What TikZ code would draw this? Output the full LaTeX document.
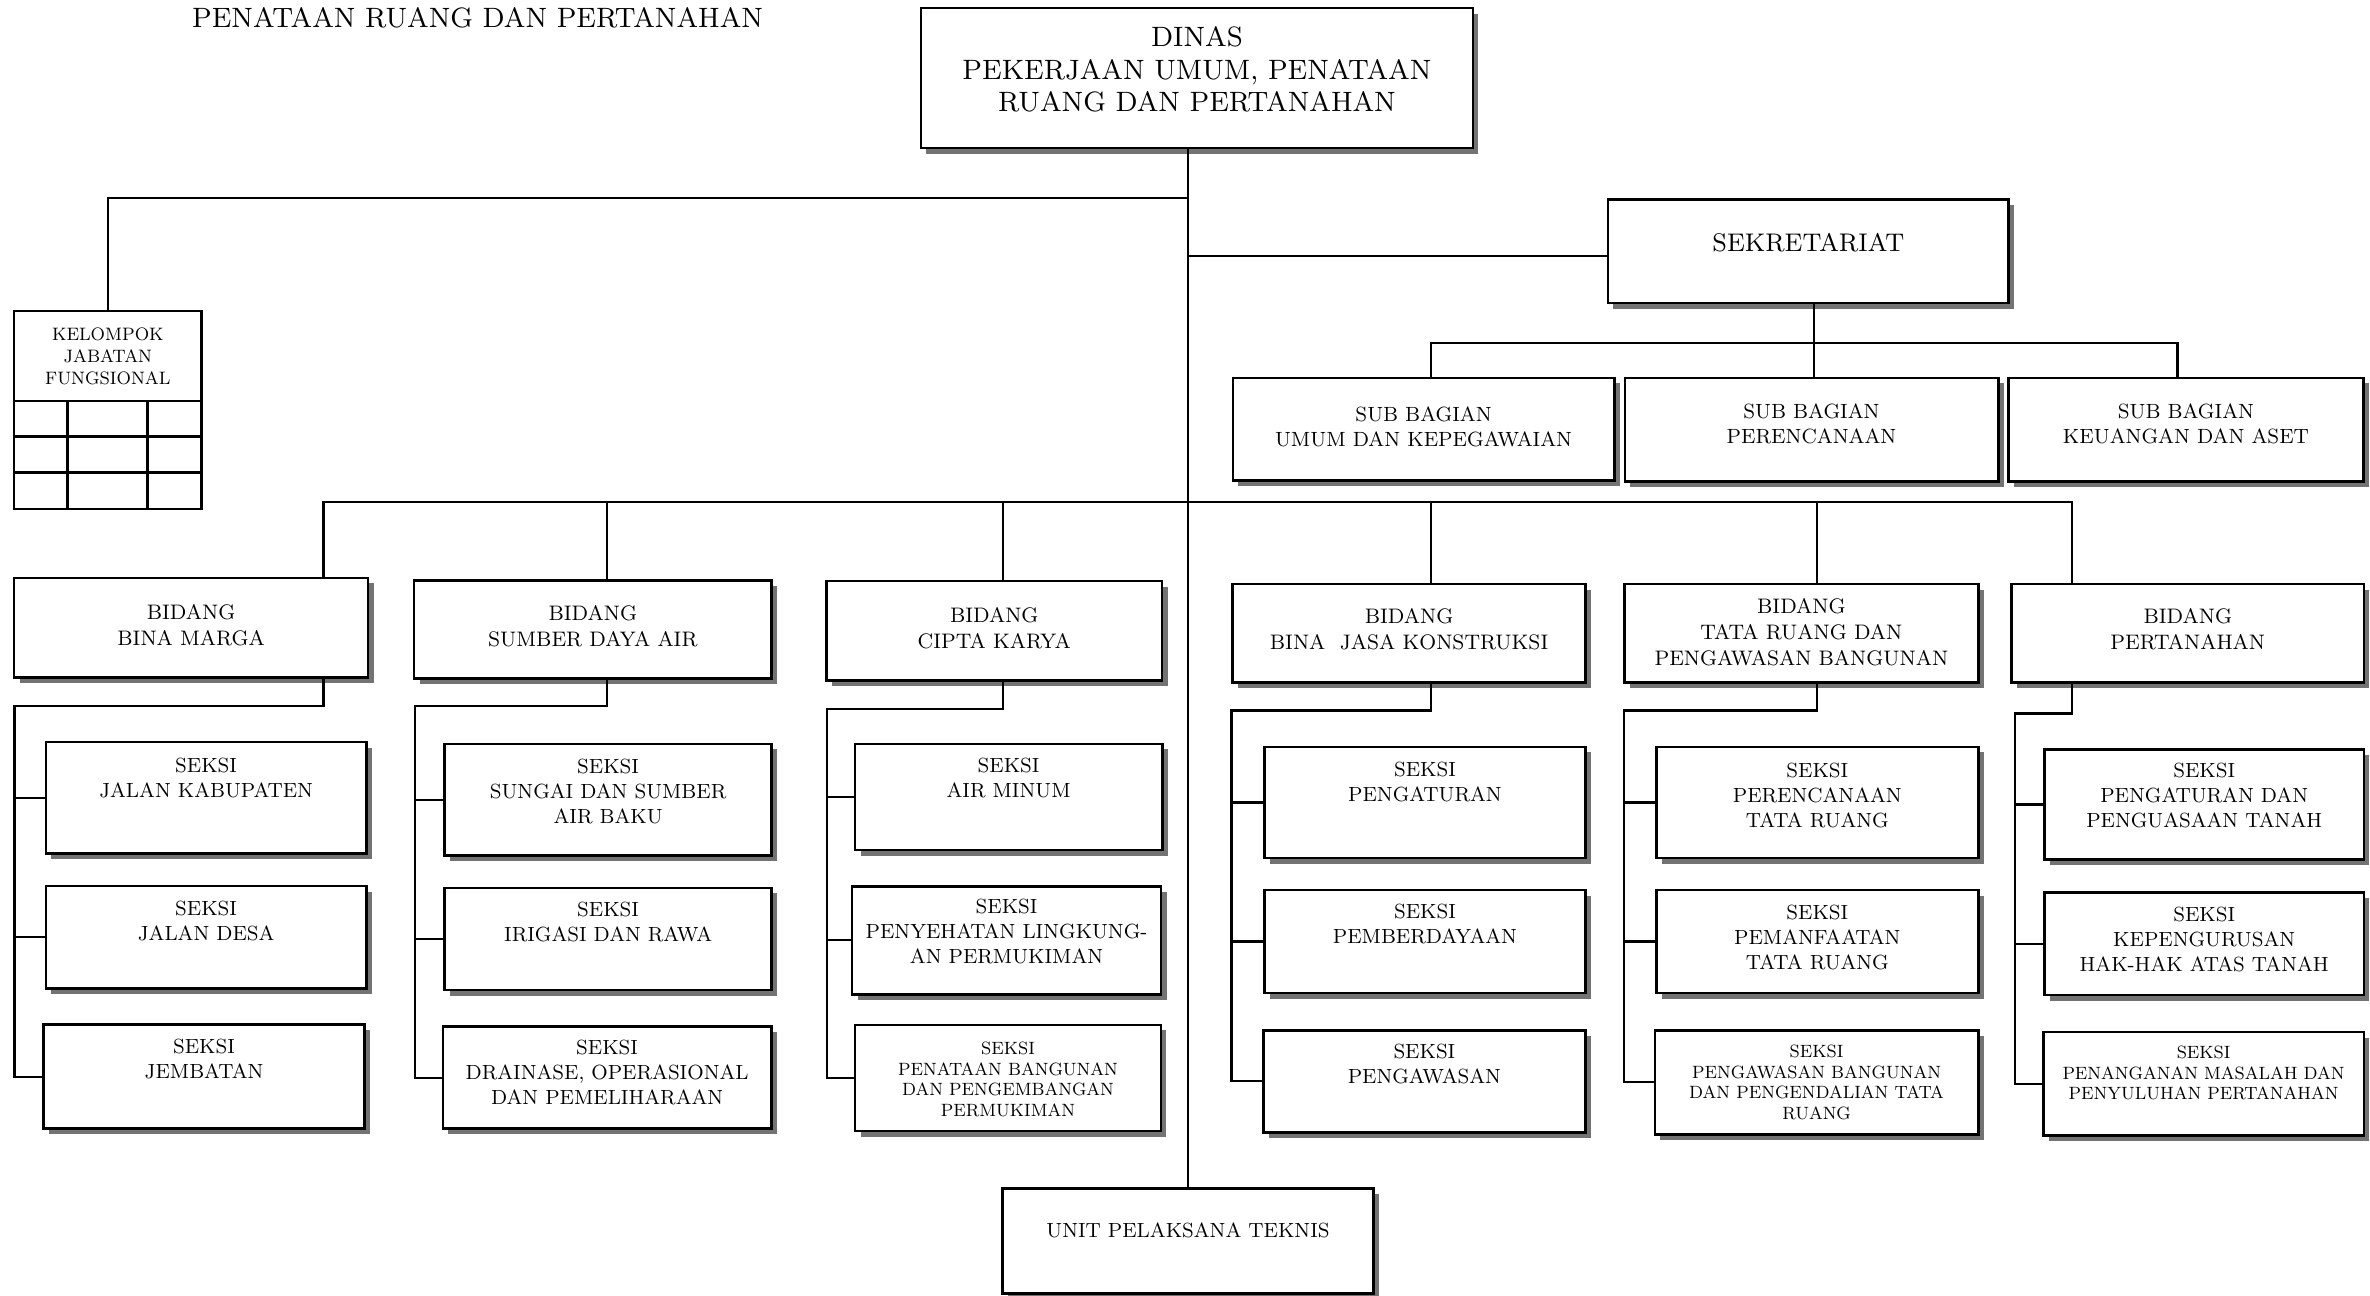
\documentclass[tikz,border=0pt]{standalone}
\usepackage{fontspec}
\setmainfont{lmroman8-regular.otf}[FakeStretch=0.97]
\usetikzlibrary{shadows}
\newcommand\obox[6][box]{\node[#1, minimum width={(#5-#3)*1.5115pt}, minimum height={(#6-#4)*1.5115pt}] (#2) at ({(#3+#5)/2},{(#4+#6)/2}) {};}
\tikzset{
 box/.style={draw, line width=2.7pt, fill=white, inner sep=0pt, outer sep=0pt,
   drop shadow={shadow xshift=5.5pt, shadow yshift=-5.5pt, fill=black!55, opacity=1}},
 plainbox/.style={draw, line width=2.6pt, fill=white, inner sep=0pt, outer sep=0pt},
 grid/.style={line width=2.5pt},
 conn/.style={line width=2.2pt},
 lbl/.style={align=center, inner sep=0pt, text=black},
 ftitle/.style={font=\fontsize{28}{33}\selectfont},
 fdinas/.style={font=\fontsize{28}{32.5}\selectfont},
 fsekr/.style={font=\fontsize{25.5}{30}\selectfont},
 fsub/.style={font=\fontsize{20.6}{24.5}\selectfont},
 fbid/.style={font=\fontsize{21}{26}\selectfont},
 fsek/.style={font=\fontsize{20.5}{25}\selectfont},
 fsmall/.style={font=\fontsize{17.8}{20.5}\selectfont},
 fkjf/.style={font=\fontsize{18}{22}\selectfont},
}
\begin{document}
\begin{tikzpicture}[x=1.5115pt,y=-1.5115pt]
\fill[white] (0,0) rectangle (1568,857);
\path[use as bounding box] (0,0) rectangle (1568,857);

\node[lbl,ftitle] (title) at (316,12) {PENATAAN RUANG DAN PERTANAHAN};

% ---------- boxes ----------
\obox{dinas}{609.3}{5.3}{974.5}{98}
\obox{sekr}{1063.8}{132}{1329}{200.5}
\obox{sbu}{815.7}{250}{1068}{318}
\obox{sbp}{1075}{250}{1322}{318.7}
\obox{sbk}{1329}{250}{1563.5}{318.7}
\obox[plainbox]{kjf}{9.3}{205.8}{133.4}{336.8}

\obox{bm}{9.3}{382.4}{243.5}{448}
\obox{sda}{274}{384}{510.4}{449}
\obox{ck}{546.8}{384.4}{768.8}{450.4}
\obox{bjk}{815.5}{386.4}{1049}{451.7}
\obox{tr}{1074.8}{386.4}{1308.8}{451.7}
\obox{pt}{1330.9}{386.4}{1564}{451.7}

\obox{s11}{30.4}{491}{242.4}{564.8}
\obox{s12}{30.4}{586.2}{242.4}{653.9}
\obox{s13}{28.7}{678}{241.3}{746.8}
\obox{s21}{294.3}{492.2}{510.4}{566}
\obox{s22}{294.3}{587.4}{510.4}{655}
\obox{s23}{293}{679.1}{510.4}{746.8}
\obox{s31}{565.7}{492.2}{768.9}{562.4}
\obox{s32}{563.7}{586.5}{768.2}{657.8}
\obox{s33}{565.7}{678.1}{768.1}{748.3}
\obox{s41}{836.5}{494.2}{1049}{567.7}
\obox{s42}{836.5}{588.9}{1049}{657}
\obox{s43}{835.8}{681.6}{1049}{749.3}
\obox{s51}{1095.9}{494.2}{1308.8}{567.7}
\obox{s52}{1095.9}{588.9}{1308.8}{657}
\obox{s53}{1094.9}{681.6}{1308.8}{750.5}
\obox{s61}{1352.6}{495.9}{1564}{568.5}
\obox{s62}{1352.6}{590.6}{1564}{658.3}
\obox{s63}{1351.8}{682.8}{1564}{751.3}
\obox{upt}{663.4}{786.2}{908.6}{855.7}

% ---------- KJF grid ----------
\draw[grid] (kjf.west |- 0,265.3) -- (kjf.east |- 0,265.3);
\draw[grid] (kjf.west |- 0,288.9) -- (kjf.east |- 0,288.9);
\draw[grid] (kjf.west |- 0,312.7) -- (kjf.east |- 0,312.7);
\draw[grid] (44.8,265.3) -- (44.8,265.3 |- kjf.south);
\draw[grid] (97.7,265.3) -- (97.7,265.3 |- kjf.south);

% ---------- texts ----------
\node[lbl,fdinas] (dinas-t) at (dinas.center |- 0,46) {DINAS\\PEKERJAAN UMUM, PENATAAN\\RUANG DAN PERTANAHAN};
\node[lbl,fsekr] (sekr-t) at (sekr.center |- 0,160.4) {SEKRETARIAT};
\node[lbl,fsub] (sbu-t) at (sbu.center |- 0,282.5) {SUB BAGIAN\\UMUM DAN KEPEGAWAIAN};
\node[lbl,fsub] (sbp-t) at (sbp.center |- 0,280.5) {SUB BAGIAN\\PERENCANAAN};
\node[lbl,fsub] (sbk-t) at (sbk.center |- 0,280.5) {SUB BAGIAN\\KEUANGAN DAN ASET};
\node[lbl,fkjf] (kjf-t) at (kjf.center |- 0,235.5) {KELOMPOK\\JABATAN\\FUNGSIONAL};

\node[lbl,fbid] (bm-t) at (bm.center |- 0,413.5) {BIDANG\\BINA MARGA};
\node[lbl,fbid] (sda-t) at (sda.center |- 0,414.5) {BIDANG\\SUMBER DAYA AIR};
\node[lbl,fbid] (ck-t) at (ck.center |- 0,415.5) {BIDANG\\CIPTA KARYA};
\node[lbl,fbid] (bjk-t) at (bjk.center |- 0,416.5) {BIDANG\\BINA\ \ JASA KONSTRUKSI};
\node[lbl,fbid] (tr-t) at (tr.center |- 0,418) {BIDANG\\TATA RUANG DAN\\PENGAWASAN BANGUNAN};
\node[lbl,fbid] (pt-t) at (pt.center |- 0,416.5) {BIDANG\\PERTANAHAN};

\node[lbl,fsek] (s11-t) at (s11.center |- 0,515) {SEKSI\\JALAN KABUPATEN};
\node[lbl,fsek] (s12-t) at (s12.center |- 0,609) {SEKSI\\JALAN DESA};
\node[lbl,fsek] (s13-t) at (s13.center |- 0,700.5) {SEKSI\\JEMBATAN};
\node[lbl,fsek] (s21-t) at (s21.center |- 0,523.5) {SEKSI\\SUNGAI DAN SUMBER\\AIR BAKU};
\node[lbl,fsek] (s22-t) at (s22.center |- 0,610) {SEKSI\\IRIGASI DAN RAWA};
\node[lbl,fsek] (s23-t) at (s23.center |- 0,709.5) {SEKSI\\DRAINASE, OPERASIONAL\\DAN PEMELIHARAAN};
\node[lbl,fsek] (s31-t) at (s31.center |- 0,515) {SEKSI\\AIR MINUM};
\node[lbl,fsek] (s32-t) at (s32.center |- 0,616.5) {SEKSI\\PENYEHATAN LINGKUNG-\\AN PERMUKIMAN};
\node[lbl,fsmall] (s33-t) at (s33.center |- 0,714) {SEKSI\\PENATAAN BANGUNAN\\DAN PENGEMBANGAN\\PERMUKIMAN};
\node[lbl,fsek] (s41-t) at (s41.center |- 0,517.5) {SEKSI\\PENGATURAN};
\node[lbl,fsek] (s42-t) at (s42.center |- 0,611.5) {SEKSI\\PEMBERDAYAAN};
\node[lbl,fsek] (s43-t) at (s43.center |- 0,704) {SEKSI\\PENGAWASAN};
\node[lbl,fsek] (s51-t) at (s51.center |- 0,526) {SEKSI\\PERENCANAAN\\TATA RUANG};
\node[lbl,fsek] (s52-t) at (s52.center |- 0,620.5) {SEKSI\\PEMANFAATAN\\TATA RUANG};
\node[lbl,fsmall] (s53-t) at (s53.center |- 0,716) {SEKSI\\PENGAWASAN BANGUNAN\\DAN PENGENDALIAN TATA\\RUANG};
\node[lbl,fsek] (s61-t) at (s61.center |- 0,526.5) {SEKSI\\PENGATURAN DAN\\PENGUASAAN TANAH};
\node[lbl,fsek] (s62-t) at (s62.center |- 0,621.5) {SEKSI\\KEPENGURUSAN\\HAK-HAK ATAS TANAH};
\node[lbl,fsmall] (s63-t) at (s63.center |- 0,710) {SEKSI\\PENANGANAN MASALAH DAN\\PENYULUHAN PERTANAHAN};
\node[lbl,fsek] (upt-t) at (upt.center |- 0,813.8) {UNIT PELAKSANA TEKNIS};

% ---------- connectors ----------
\coordinate (jkjf) at (786.6,131);
\coordinate (jsek) at (786.6,169.2);
\draw[conn] (upt.north |- dinas.south) -- (upt.north);
\draw[conn] (kjf.north) |- (jkjf);
\draw[conn] (jsek) -- (jsek -| sekr.west);

\coordinate (sb) at (1200,226.7);
\coordinate (bu) at (946.5,226.7);
\coordinate (bk) at (1440.6,226.7);
\draw[conn] (sb |- sekr.south) -- (sb |- sbp.north);
\draw[conn] (bu |- sbu.north) -- (bu) -- (bk) -- (bk |- sbk.north);

\coordinate (b1) at (214,332);
\coordinate (b2) at (401.7,332);
\coordinate (b3) at (663.6,332);
\coordinate (b4) at (946.8,332);
\coordinate (b5) at (1202,332);
\coordinate (b6) at (1370.8,332);
\draw[conn] (b1 |- bm.north) -- (b1) -- (b6) -- (b6 |- pt.north);
\draw[conn] (b2) -- (b2 |- sda.north);
\draw[conn] (b3) -- (b3 |- ck.north);
\draw[conn] (b4) -- (b4 |- bjk.north);
\draw[conn] (b5) -- (b5 |- tr.north);

% column 1
\coordinate (c1) at (214,467);
\coordinate (k1) at (9.6,467);
\draw[conn] (c1 |- bm.south) -- (c1) -- (k1) -- (k1 |- s13.west) -- (s13.west);
\draw[conn] (k1 |- s11.west) -- (s11.west);
\draw[conn] (k1 |- s12.west) -- (s12.west);
% column 2
\coordinate (c2) at (401.7,467);
\coordinate (k2) at (274.5,467);
\draw[conn] (c2 |- sda.south) -- (c2) -- (k2) -- (k2 |- s23.west) -- (s23.west);
\draw[conn] (k2 |- s21.west) -- (s21.west);
\draw[conn] (k2 |- s22.west) -- (s22.west);
% column 3
\coordinate (c3) at (663.6,469);
\coordinate (k3) at (547,469);
\draw[conn] (c3 |- ck.south) -- (c3) -- (k3) -- (k3 |- s33.west) -- (s33.west);
\draw[conn] (k3 |- s31.west) -- (s31.west);
\draw[conn] (k3 |- s32.west) -- (s32.west);
% column 4
\coordinate (c4) at (946.8,470);
\coordinate (k4) at (814.7,470);
\draw[conn] (c4 |- bjk.south) -- (c4) -- (k4) -- (k4 |- s43.west) -- (s43.west);
\draw[conn] (k4 |- s41.west) -- (s41.west);
\draw[conn] (k4 |- s42.west) -- (s42.west);
% column 5
\coordinate (c5) at (1202,470);
\coordinate (k5) at (1074.5,470);
\draw[conn] (c5 |- tr.south) -- (c5) -- (k5) -- (k5 |- s53.west) -- (s53.west);
\draw[conn] (k5 |- s51.west) -- (s51.west);
\draw[conn] (k5 |- s52.west) -- (s52.west);
% column 6
\coordinate (c6) at (1370.8,472);
\coordinate (k6) at (1333,472);
\draw[conn] (c6 |- pt.south) -- (c6) -- (k6) -- (k6 |- s63.west) -- (s63.west);
\draw[conn] (k6 |- s61.west) -- (s61.west);
\draw[conn] (k6 |- s62.west) -- (s62.west);
\end{tikzpicture}
\end{document}
